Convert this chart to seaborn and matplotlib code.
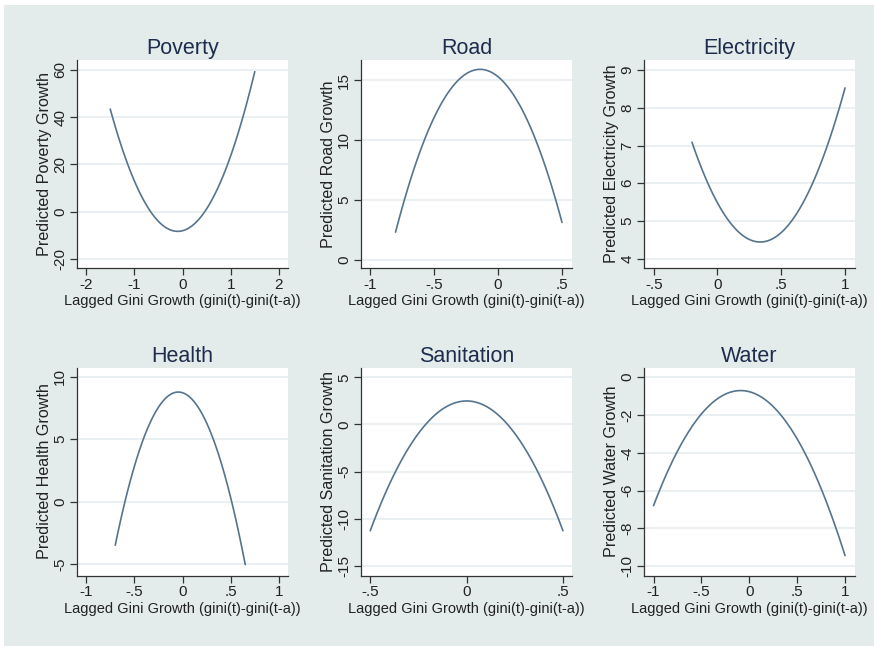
import numpy as np
import pandas as pd
import matplotlib
matplotlib.use("Agg")
import matplotlib.pyplot as plt
import seaborn as sns
from matplotlib.patches import Rectangle

sns.set_theme(style="white")
plt.rcParams['font.family'] = ['Liberation Sans', 'DejaVu Sans']

# ---- data ----
titles = ["Poverty", "Road", "Electricity", "Health", "Sanitation", "Water"]
ylabels = ["Predicted Poverty Growth", "Predicted Road Growth", "Predicted Electricity Growth",
           "Predicted Health Growth", "Predicted Sanitation Growth", "Predicted Water Growth"]
xlabel = "Lagged Gini Growth (gini(t)-gini(t-a))"

poverty_x = [-1.5, -1.25, -1.0, -0.75, -0.5, -0.25, 0.0, 0.25, 0.5, 0.75, 1.0, 1.25, 1.5]
poverty_y = [43.4, 26.6, 13.1, 2.9, -4.1, -7.7, -8.0, -5.1, 1.2, 10.8, 23.6, 39.8, 59.3]

road_x = [-0.8, -0.7, -0.6, -0.5, -0.4, -0.3, -0.2, -0.1, 0.0, 0.1, 0.2, 0.3, 0.4, 0.5]
road_y = [2.3, 6.1, 9.3, 11.8, 13.8, 15.1, 15.8, 15.85, 15.3, 14.1, 12.3, 9.8, 6.8, 3.1]

elec_x = [-0.2, -0.1, 0.0, 0.1, 0.2, 0.3, 0.4, 0.5, 0.6, 0.7, 0.8, 0.9, 1.0]
elec_y = [7.09, 6.19, 5.48, 4.95, 4.61, 4.45, 4.48, 4.69, 5.09, 5.67, 6.44, 7.39, 8.53]

health_x = [-0.7, -0.6, -0.5, -0.4, -0.3, -0.2, -0.1, 0.0, 0.1, 0.2, 0.3, 0.4, 0.5, 0.6, 0.65]
health_y = [-3.46, -0.02, 2.86, 5.17, 6.91, 8.08, 8.67, 8.70, 8.16, 7.05, 5.37, 3.12, 0.29, -3.10, -5.01]

sanit_x = [-0.5, -0.4, -0.3, -0.2, -0.1, 0.0, 0.1, 0.2, 0.3, 0.4, 0.5]
sanit_y = [-11.3, -6.33, -2.47, 0.29, 1.95, 2.5, 1.95, 0.29, -2.47, -6.33, -11.3]

water_x = [-1.0, -0.8, -0.6, -0.4, -0.2, 0.0, 0.2, 0.4, 0.6, 0.8, 1.0]
water_y = [-6.80, -4.41, -2.62, -1.42, -0.80, -0.77, -1.33, -2.47, -4.21, -6.53, -9.44]

series = [(poverty_x, poverty_y), (road_x, road_y), (elec_x, elec_y),
          (health_x, health_y), (sanit_x, sanit_y), (water_x, water_y)]

xticks = [[-2, -1, 0, 1, 2], [-1, -0.5, 0, 0.5], [-0.5, 0, 0.5, 1],
          [-1, -0.5, 0, 0.5, 1], [-0.5, 0, 0.5], [-1, -0.5, 0, 0.5, 1]]
xticklabels = [["-2", "-1", "0", "1", "2"], ["-1", "-.5", "0", ".5"], ["-.5", "0", ".5", "1"],
               ["-1", "-.5", "0", ".5", "1"], ["-.5", "0", ".5"], ["-1", "-.5", "0", ".5", "1"]]
yticks = [[-20, 0, 20, 40, 60], [0, 5, 10, 15], [4, 5, 6, 7, 8, 9],
          [-5, 0, 5, 10], [-15, -10, -5, 0, 5], [-10, -8, -6, -4, -2, 0]]
xlims = [(-2.19, 2.19), (-1.07, 0.578), (-0.576, 1.078), (-1.097, 1.094), (-0.548, 0.547), (-1.10, 1.104)]
ylims = [(-23.8, 64.2), (-0.71, 16.68), (3.75, 9.27), (-5.88, 10.72), (-16.06, 6.06), (-10.49, 0.51)]

# ---- figure ----
W, H = 874, 646
fig = plt.figure(figsize=(W / 100, H / 100), dpi=100, facecolor="white")
bg = "#e3ebeb"
fig.patches.append(Rectangle((4 / W, 0), 1 - 4 / W, 1 - 5 / H, transform=fig.transFigure,
                             facecolor=bg, edgecolor="none", zorder=-10))

lefts = [77, 361, 644]
tops = [60, 367.5]
aw, ah = 211, 208
line_color = "#55748f"
grid_color = "#e6eeef"
text_color = "#222222"
title_color = "#1f2d4d"

for i in range(6):
    r, c = divmod(i, 3)
    l = lefts[c]
    t = tops[r]
    ax = fig.add_axes([l / W, 1 - (t + ah) / H, aw / W, ah / H])
    ax.set_facecolor("white")
    x, y = series[i]
    df = pd.DataFrame({"x": x, "y": y})
    sns.regplot(data=df, x="x", y="y", order=2, scatter=False, ci=None, truncate=True,
                ax=ax, line_kws=dict(color=line_color, lw=1.2))
    ax.set_xlim(*xlims[i])
    ax.set_ylim(*ylims[i])
    ax.set_xticks(xticks[i])
    ax.set_xticklabels(xticklabels[i])
    ax.set_yticks(yticks[i])
    ax.set_yticklabels([str(v) for v in yticks[i]], rotation=90, va="center")
    for v in yticks[i]:
        ax.axhline(v, color=grid_color, lw=1.2, zorder=0)
    for s in ["top", "right"]:
        ax.spines[s].set_visible(False)
    for s in ["left", "bottom"]:
        ax.spines[s].set_color("#333333")
        ax.spines[s].set_linewidth(0.9)
    ax.tick_params(axis="both", which="major", direction="out", length=5, width=0.9,
                   color="#333333", labelsize=11, labelcolor=text_color, pad=2,
                   left=True, bottom=True)
    ax.set_xlabel(xlabel, fontsize=10.5, color=text_color, labelpad=2)
    ax.set_ylabel(ylabels[i], fontsize=11.6, color=text_color, labelpad=1)
    ax.set_title(titles[i], fontsize=15.5, color=title_color, pad=4)

fig.savefig("out.png", dpi=100, facecolor=fig.get_facecolor())
